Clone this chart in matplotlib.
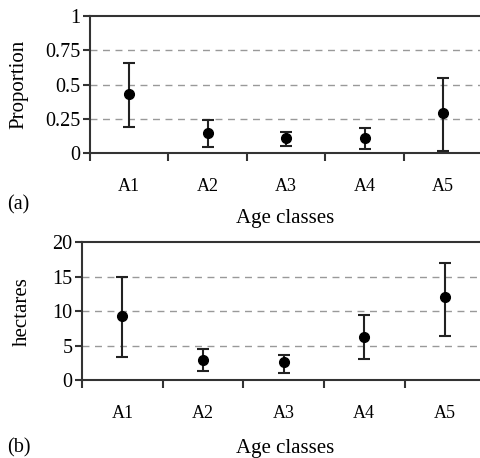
import matplotlib.pyplot as plt
import numpy as np

plt.rcParams['font.family'] = ['Liberation Serif', 'DejaVu Serif']

classes = ['A1', 'A2', 'A3', 'A4', 'A5']

# panel (a): proportion, mean with lower / upper limits
prop_mean = [0.43, 0.145, 0.11, 0.11, 0.295]
prop_low = [0.19, 0.04, 0.053, 0.03, 0.015]
prop_high = [0.66, 0.24, 0.15, 0.18, 0.55]
prop_ticks = [0, 0.25, 0.5, 0.75, 1]
prop_ticklabels = ['0', '0.25', '0.5', '0.75', '1']

# panel (b): hectares
ha_mean = [9.3, 2.9, 2.6, 6.3, 12.0]
ha_low = [3.3, 1.3, 1.0, 3.0, 6.4]
ha_high = [15.0, 4.5, 3.7, 9.4, 17.0]
ha_ticks = [0, 5, 10, 15, 20]


def draw_panel(ax, mean, low, high, yticks, yticklabels, ylabel):
    x = np.arange(1, len(classes) + 1)
    mean = np.array(mean)
    err = [mean - np.array(low), np.array(high) - mean]
    for t in yticks[1:-1]:
        ax.axhline(t, color='#999999', lw=1, ls=(0, (5, 4)), zorder=1)
    ax.errorbar(x, mean, yerr=err, fmt='o', color='black', ms=7,
                ecolor='#222222', elinewidth=1.5, capsize=4, capthick=1.5, zorder=3)
    ax.set_xlim(0.5, len(classes) + 0.5)
    ax.set_ylim(yticks[0], yticks[-1])
    ax.set_yticks(yticks)
    ax.set_yticklabels(yticklabels, fontsize=14.5)
    ax.set_xticks(x)
    ax.set_xticklabels(classes, fontsize=13)
    ax.set_xticks(np.arange(0.5, len(classes) + 0.5), minor=True)
    ax.tick_params(axis='x', which='major', length=0, pad=18)
    ax.tick_params(axis='x', which='minor', length=6, width=1.5, direction='out', color='#333333')
    ax.tick_params(axis='y', length=5, width=1.5, direction='out', color='#333333', pad=2)
    for s in ['left', 'bottom', 'top']:
        ax.spines[s].set_color('#333333')
        ax.spines[s].set_linewidth(1.5)
    ax.spines['right'].set_visible(False)
    ax.set_ylabel(ylabel, fontsize=15)


fig = plt.figure(figsize=(4.8, 4.58), dpi=100)
ax1 = fig.add_axes([0.1875, 0.666, 0.817, 0.299])
ax2 = fig.add_axes([0.171, 0.170, 0.84, 0.301])

draw_panel(ax1, prop_mean, prop_low, prop_high, prop_ticks, prop_ticklabels, 'Proportion')
draw_panel(ax2, ha_mean, ha_low, ha_high, ha_ticks, [str(t) for t in ha_ticks], 'hectares')
ax1.yaxis.set_label_coords(-0.157, 0.5)
ax2.yaxis.set_label_coords(-0.124, 0.5)

fig.text(285 / 480, 1 - 218 / 458, 'Age classes', ha='center', va='center', fontsize=15)
fig.text(285 / 480, 1 - 448 / 458, 'Age classes', ha='center', va='center', fontsize=15)
fig.text(7 / 480, 1 - 205 / 458, '(a)', ha='left', va='center', fontsize=14.5)
fig.text(7 / 480, 1 - 448 / 458, '(b)', ha='left', va='center', fontsize=14.5)

fig.savefig('out.png', dpi=100)
